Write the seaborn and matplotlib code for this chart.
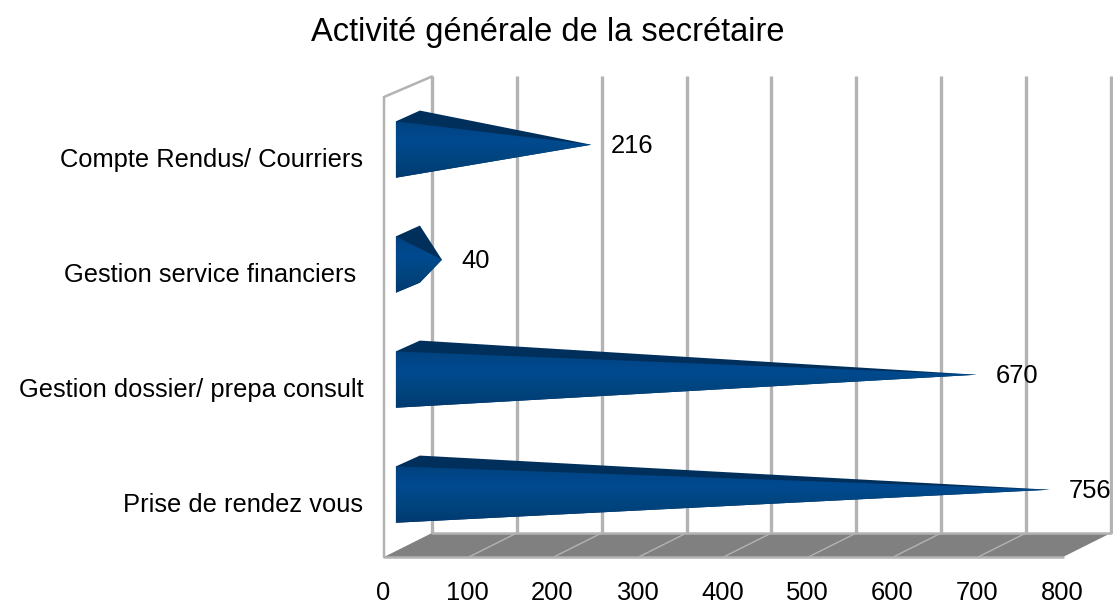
"""
Activite generale de la secretaire: fake-3D cone chart built on a seaborn barplot.
"""
import numpy as np
import pandas as pd
import seaborn as sns
import matplotlib.pyplot as plt
import matplotlib.transforms as mtrans
from matplotlib.colors import LinearSegmentedColormap
from matplotlib.patches import Polygon

categories = ["Compte Rendus/ Courriers", "Gestion service financiers ",
              "Gestion dossier/ prepa consult", "Prise de rendez vous"]
values = [216, 40, 670, 756]
x_ticks = [0, 100, 200, 300, 400, 500, 600, 700, 800]
title_text = "Activité générale de la secrétaire"

sns.set_style("white")
plt.rcParams["font.family"] = ["Liberation Sans", "DejaVu Sans"]
plt.rcParams["text.color"] = "black"
plt.rcParams["xtick.color"] = "black"
plt.rcParams["ytick.color"] = "black"

GRID = "#b3b3b3"
FLOOR = "#808080"
TOP_FACE = "#002f5c"
FONT_SIZE = 18.4
# depth of the fake 3D box, in data units (48 px right, 24 px up)
DEPTH_X = 48 / 0.849
DEPTH_Y = 24 / 115

fig = plt.figure(figsize=(11.13, 6.03), dpi=100)
ax = fig.add_axes([384 / 1113, 1 - 557 / 603, 679 / 1113, 460 / 603])

df = pd.DataFrame({"categorie": categories, "valeur": values})
sns.barplot(data=df, x="valeur", y="categorie", orient="h", width=0.49,
            color="#004586", ax=ax)
ax.set_xlim(0, 800)
ax.set_ylim(3.5, -0.5)
y_low, y_top = ax.get_ylim()

# back wall, side wall and floor
for tick in x_ticks:
    ax.plot([tick + DEPTH_X] * 2, [y_low - DEPTH_Y, y_top - DEPTH_Y + 0.03],
            color=GRID, lw=2.4, clip_on=False, zorder=1, solid_capstyle="butt")
ax.plot([0, 0, DEPTH_X], [y_low, y_top, y_top - DEPTH_Y + 0.03], color=GRID, lw=1.8,
        clip_on=False, zorder=1, solid_joinstyle="miter")
ax.add_patch(Polygon([(0, y_low), (800, y_low), (800 + DEPTH_X, y_low - DEPTH_Y),
                      (DEPTH_X, y_low - DEPTH_Y)],
                     closed=True, fc=FLOOR, ec="none", clip_on=False, zorder=2))
for tick in x_ticks[1:-1]:
    ax.plot([tick, tick + DEPTH_X], [y_low, y_low - DEPTH_Y], color=GRID, lw=1,
            clip_on=False, zorder=3)
ax.plot([0, 800], [y_low, y_low], color=GRID, lw=1.8, clip_on=False, zorder=3)
ax.plot([DEPTH_X, 800 + DEPTH_X], [y_low - DEPTH_Y] * 2, color=GRID, lw=1.8,
        clip_on=False, zorder=3)

cone_cmap = LinearSegmentedColormap.from_list(
    "cone", ["#00427f", "#004a90", "#00457f", "#003a70"])
gradient = np.linspace(0, 1, 128).reshape(-1, 1)

# turn every bar of the seaborn plot into a cone
for bar, val in zip(ax.patches, values):
    bar.set_visible(False)
    x_base = 14
    y_top_base = bar.get_y() - 0.043
    y_bot_base = y_top_base + bar.get_height()
    x_back = x_base + DEPTH_X / 2
    apex = (val + DEPTH_X / 2, bar.get_y() + bar.get_height() / 2 - 0.085)

    outline = [(x_base, y_top_base), apex]
    # lower back corner only shows on short cones
    y_back_bot = y_bot_base - DEPTH_Y * 0.42
    y_on_line = y_bot_base + (apex[1] - y_bot_base) * (x_back - x_base) / (apex[0] - x_base)
    if y_back_bot > y_on_line:
        outline.append((x_back, y_back_bot))
    outline.append((x_base, y_bot_base))
    top_corner = (x_back, y_top_base - DEPTH_Y * 0.45)
    ax.add_patch(Polygon([top_corner] + outline[1:] + outline[:1], closed=True,
                         fc=TOP_FACE, ec="none", zorder=3.5))
    front = Polygon(outline, closed=True, fc="none", ec="none", transform=ax.transData)
    ax.add_patch(front)
    img = ax.imshow(gradient, cmap=cone_cmap, aspect="auto", zorder=4,
                    extent=(x_base, apex[0], y_bot_base, y_top_base))
    img.set_clip_path(front)
    ax.text(val + 51, apex[1] + 0.01, str(val), ha="left", va="center", fontsize=FONT_SIZE,
            color="black", zorder=6)

ax.set_xlim(0, 800)
ax.set_ylim(y_low, y_top)
ax.set_xticks(x_ticks)
ax.set_xlabel("")
ax.set_ylabel("")
ax.tick_params(axis="x", length=0, pad=17, labelsize=FONT_SIZE)
ax.tick_params(axis="y", length=0, pad=15, labelsize=FONT_SIZE)
sns.despine(ax=ax, left=True, bottom=True)
shift_y = mtrans.ScaledTranslation(0, -2 / 72, fig.dpi_scale_trans)
for label in ax.get_yticklabels():
    label.set_transform(label.get_transform() + shift_y)
shift_x = mtrans.ScaledTranslation(-1.2 / 100, 0, fig.dpi_scale_trans)
for label in ax.get_xticklabels():
    label.set_transform(label.get_transform() + shift_x)

fig.text(548 / 1113, 1 - 33 / 603, title_text, ha="center", va="center", fontsize=23.5,
         color="black")
fig.savefig("out.png", dpi=100)
